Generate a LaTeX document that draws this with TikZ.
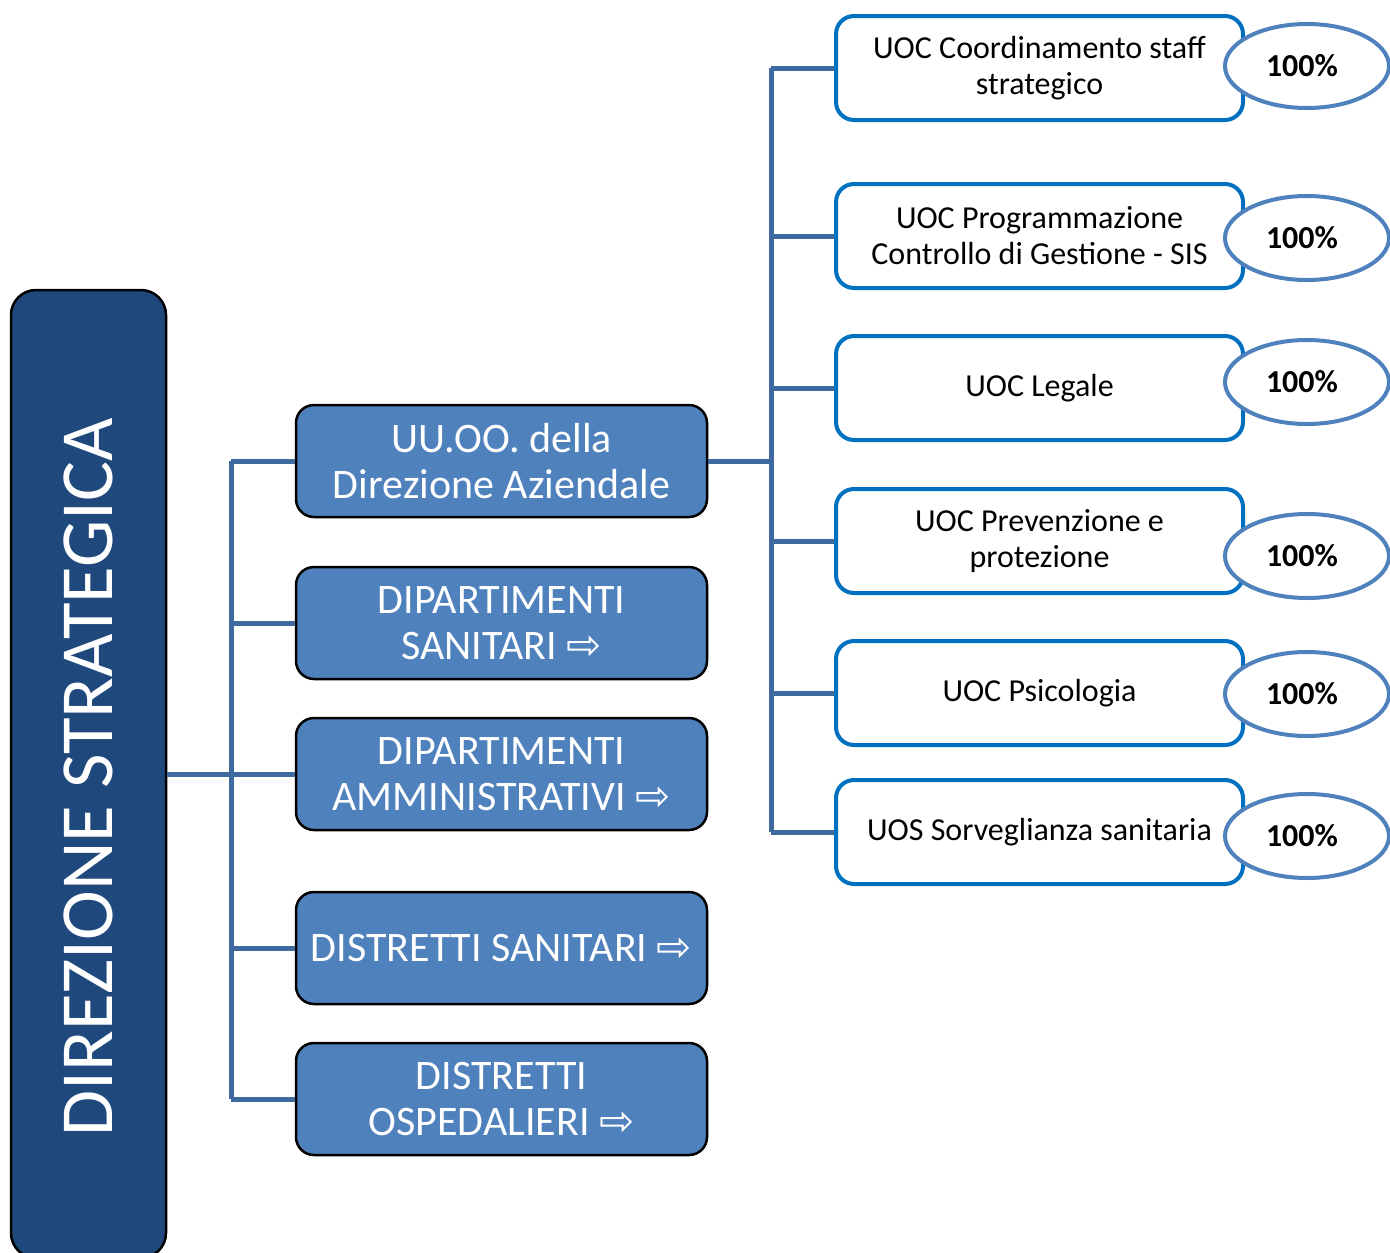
\documentclass[tikz,border=0pt]{standalone}
\usepackage{fontspec}
\setmainfont{Carlito}
\newfontfamily\arrowfont{DejaVu Sans}
\usetikzlibrary{shapes.geometric}
\definecolor{darkblue}{RGB}{31,73,125}
\definecolor{midblue}{RGB}{79,129,189}
\definecolor{lineblue}{RGB}{63,106,160}
\definecolor{boxblue}{RGB}{0,112,192}
\newcommand{\warr}{{\arrowfont\char"21E8}}
\tikzset{
  bigbox/.style={draw=black, line width=2.5pt, fill=darkblue, rounded corners=25pt,
    minimum width=968pt, minimum height=155pt, text=white, rotate=90,
    font=\fontsize{75}{90}\selectfont, inner sep=0pt},
  midbox/.style={draw=black, line width=2.5pt, fill=midblue, rounded corners=18pt,
    minimum width=411pt, minimum height=112pt, text=white, align=center,
    font=\fontsize{42}{46}\selectfont, inner sep=0pt},
  rbox/.style={draw=boxblue, line width=4pt, fill=white, rounded corners=18pt,
    minimum width=407pt, minimum height=104pt, text=black, align=center,
    font=\fontsize{32}{36}\selectfont, inner sep=0pt},
  pct/.style={ellipse, draw=midblue, line width=4pt, fill=white,
    minimum width=164pt, minimum height=84pt, inner sep=0pt,
    font=\fontsize{32}{36}\selectfont\bfseries},
  conn/.style={draw=lineblue, line width=5pt}
}
\begin{document}
\begin{tikzpicture}[x=1pt,y=-1pt]
\useasboundingbox (0,0) rectangle (1390,1253);
\clip (0,0) rectangle (1390,1253);
% connector coordinates
\coordinate (lt) at (231,0);
\coordinate (rt) at (771,0);
% main box
\node[bigbox] (dir) at (88.5,774) {DIREZIONE STRATEGICA\hspace*{6pt}};
% middle boxes
\node[midbox] (m1) at (501.5,461) {UU.OO. della\\Direzione Aziendale};
\node[midbox] (m2) at (501.5,623) {DIPARTIMENTI\\SANITARI \warr};
\node[midbox] (m3) at (501.5,774) {DIPARTIMENTI\\AMMINISTRATIVI \warr};
\node[midbox] (m4) at (501.5,948) {DISTRETTI SANITARI \warr};
\node[midbox] (m5) at (501.5,1099) {DISTRETTI\\OSPEDALIERI \warr};
% right boxes
\node[rbox] (r1) at (1039.5,68) {UOC Coordinamento staff\\strategico};
\node[rbox] (r2) at (1039.5,236) {UOC Programmazione\\Controllo di Gestione - SIS};
\node[rbox] (r3) at (1039.5,388) {UOC Legale};
\node[rbox] (r4) at (1039.5,541) {UOC Prevenzione e\\protezione};
\node[rbox] (r5) at (1039.5,693) {UOC Psicologia};
\node[rbox] (r6) at (1039.5,832) {UOS Sorveglianza sanitaria};
% percentages
\node[pct] (p1) at (1307,66) {100\%\hspace*{10pt}};
\node[pct] (p2) at (1307,238) {100\%\hspace*{10pt}};
\node[pct] (p3) at (1307,382) {100\%\hspace*{10pt}};
\node[pct] (p4) at (1307,556) {100\%\hspace*{10pt}};
\node[pct] (p5) at (1307,694) {100\%\hspace*{10pt}};
\node[pct] (p6) at (1307,836) {100\%\hspace*{10pt}};
% left connectors
\draw[conn] (dir.south) -- (m3.west);
\draw[conn] (m1.west -| lt) -- (m5.west -| lt);
\foreach \m in {m1,m2,m3,m4,m5}{
  \draw[conn] (\m.west -| lt) -- (\m.west);
}
% right connectors
\draw[conn] (m1.east) -- (m1.east -| rt);
\draw[conn] (r1.west -| rt) -- (r6.west -| rt);
\foreach \r in {r1,r2,r3,r4,r5,r6}{
  \draw[conn] (\r.west -| rt) -- (\r.west);
}
\end{tikzpicture}
\end{document}
